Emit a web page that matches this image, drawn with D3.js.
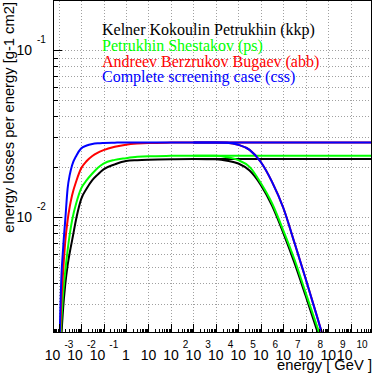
<!DOCTYPE html>
<html>
<head>
<meta charset="utf-8">
<script src="https://cdn.jsdelivr.net/npm/d3@7/dist/d3.min.js"></script>
<style>
  body { margin: 0; background: #fff; }
  svg { display: block; }
  .tick-label { font-family: "Liberation Sans", Arial, sans-serif; font-size: 14px; fill: #000; }
  .tick-exp { font-family: "Liberation Sans", Arial, sans-serif; font-size: 10px; fill: #000; }
  .axis-title { font-family: "Liberation Sans", Arial, sans-serif; font-size: 15px; fill: #000; }
  .legend { font-family: "Liberation Serif", "Times New Roman", serif; font-size: 16px; }
</style>
</head>
<body>
<script>
// photon energy [GeV]
var energy = [0.001047, 0.001122, 0.001259, 0.001585, 0.001995, 0.002512, 0.003162, 0.003981,
  0.00631, 0.01, 0.01778, 0.03162, 0.05623, 0.1, 0.3162, 1, 3.162, 10, 100,
  1e3, 1e4, 1e5, 1e6, 1e7, 1e8, 1e9, 1e10, 1e11];

// energy losses per energy, no LPM suppression
var kkp = [0.00032, 0.00089, 0.00158, 0.00282, 0.00398, 0.00513, 0.00617, 0.00724,
  0.0100, 0.01274, 0.01479, 0.0166, 0.01799, 0.01928, 0.02065, 0.02163, 0.02188, 0.02203, 0.02218,
  0.02223, 0.02223, 0.02223, 0.02223, 0.02223, 0.02223, 0.02223, 0.02223, 0.02223];
var ps = [0.0004, 0.00112, 0.0020, 0.00347, 0.00479, 0.00631, 0.00794, 0.00955,
  0.0123, 0.01479, 0.0166, 0.0182, 0.01972, 0.02089, 0.02198, 0.02249, 0.02291, 0.02312, 0.02323,
  0.02328, 0.02328, 0.02328, 0.02328, 0.02328, 0.02328, 0.02328, 0.02328, 0.02328];
var abb = [0.0005, 0.00141, 0.00263, 0.00468, 0.00724, 0.00955, 0.01161, 0.01349,
  0.0166, 0.0195, 0.02163, 0.02317, 0.02427, 0.02512, 0.0263, 0.0271, 0.02752, 0.02775, 0.02788,
  0.02793, 0.02793, 0.02793, 0.02793, 0.02793, 0.02793, 0.02793, 0.02793, 0.02793];
var css = [0.00063, 0.00178, 0.00355, 0.00646, 0.00977, 0.01479, 0.01799, 0.02042,
  0.02344, 0.0257, 0.02679, 0.02735, 0.02762, 0.02775, 0.02786, 0.02793, 0.02793, 0.02793, 0.02793,
  0.02793, 0.02793, 0.02793, 0.02793, 0.02793, 0.02793, 0.02793, 0.02793, 0.02793];

// high energy part with LPM suppression
var energyLpm = [1e3, 1e4, 3.162e4, 1e5, 3.162e5, 1e6, 3.162e6, 1e7, 3.162e7, 1e8, 3.162e8, 1e9];
var kkpLpm = [0.02223, 0.02213, 0.02173, 0.02089, 0.01897, 0.01556, 0.01169, 0.00804, 0.00531, 0.00336, 0.0021, 0.00135];
var psLpm = [0.02328, 0.02323, 0.0228, 0.02188, 0.01995, 0.01596, 0.01208, 0.00832, 0.00556, 0.00351, 0.00222, 0.00141];
var abbLpm = [0.02793, 0.02793, 0.0278, 0.02704, 0.02523, 0.02133, 0.01622, 0.01135, 0.007, 0.00425, 0.00254, 0.00151];
var cssLpm = [0.02793, 0.02793, 0.0278, 0.02704, 0.02523, 0.02133, 0.01622, 0.01135, 0.007, 0.00425, 0.00254, 0.00151];

var xTickExp = [-3, -2, -1, 0, 1, 2, 3, 4, 5, 6, 7, 8, 9, 10];
var yTickExp = [-2, -1];
var legendLabels = ["Kelner Kokoulin Petrukhin (kkp)", "Petrukhin Shestakov (ps)",
  "Andreev Berzrukov Bugaev (abb)", "Complete screening case (css)"];
var colors = ["#000000", "#00ff00", "#ff0000", "#0000ff"];

var width = 374, height = 378;
var fLeft = 53, fRight = 372, fTop = 1, fBottom = 333;

var svg = d3.select("body").append("svg")
  .attr("width", width)
  .attr("height", height);

var x = d3.scaleLog().domain([Math.pow(10, -3.25), Math.pow(10, 10.95)]).range([fLeft, fRight]);
var y = d3.scaleLog().domain([Math.pow(10, -2.695), Math.pow(10, -0.7066)]).range([fBottom, fTop]);

svg.append("defs").append("clipPath").attr("id", "frame")
  .append("rect").attr("x", fLeft).attr("y", fTop).attr("width", fRight - fLeft).attr("height", fBottom - fTop);

// fit a text to a given length by adjusting its font size
function fitText(sel, target) {
  var len = sel.node().getComputedTextLength();
  var fs = parseFloat(window.getComputedStyle(sel.node()).fontSize);
  if (len > 0) sel.style("font-size", (fs * target / len) + "px");
}

// grid
var grid = svg.append("g").attr("stroke", "#a0a0a0").attr("stroke-dasharray", "1,2").attr("stroke-width", 1);
xTickExp.forEach(function(e) {
  var px = Math.round(x(Math.pow(10, e))) + 0.5;
  grid.append("line").attr("x1", px).attr("x2", px).attr("y1", fTop).attr("y2", fBottom);
});
var yGrid = [];
[-3, -2, -1].forEach(function(e) {
  for (var k = 1; k < 10; k++) {
    var v = k * Math.pow(10, e);
    if (v >= y.domain()[0] && v <= y.domain()[1]) yGrid.push({v: v, major: k == 1});
  }
});
yGrid.forEach(function(d) {
  var py = Math.round(y(d.v)) + 0.5;
  grid.append("line").attr("x1", fLeft).attr("x2", fRight).attr("y1", py).attr("y2", py);
});

// curves
var line = d3.line()
  .x(function(d) { return x(d[0]); })
  .y(function(d) { return y(d[1]); })
  .curve(d3.curveMonotoneX);

var curves = svg.append("g").attr("clip-path", "url(#frame)")
  .attr("fill", "none").attr("stroke-width", 2);

var full = [kkp, ps, abb, css];
var lpm = [kkpLpm, psLpm, abbLpm, cssLpm];
full.forEach(function(vals, i) {
  curves.append("path")
    .attr("d", line(energy.map(function(e, j) { return [e, vals[j]]; })))
    .attr("stroke", colors[i]);
  curves.append("path")
    .attr("d", line(energyLpm.map(function(e, j) { return [e, lpm[i][j]]; })))
    .attr("stroke", colors[i]);
});

// frame + ticks
var axes = svg.append("g").attr("stroke", "#000").attr("stroke-width", 1).attr("fill", "none");
axes.append("rect").attr("x", fLeft + 0.5).attr("y", fTop - 0.5).attr("width", fRight - fLeft - 1).attr("height", fBottom - fTop);

yGrid.forEach(function(d) {
  var py = Math.round(y(d.v)) + 0.5;
  axes.append("line").attr("x1", fLeft).attr("x2", fLeft + (d.major ? 9 : 5)).attr("y1", py).attr("y2", py);
});
for (var e = -4; e <= 11; e++) {
  for (var k = 1; k < 10; k++) {
    var v = k * Math.pow(10, e);
    if (v < x.domain()[0] || v > x.domain()[1]) continue;
    var px = Math.round(x(v)) + 0.5;
    axes.append("line").attr("x1", px).attr("x2", px).attr("y1", fBottom).attr("y2", fBottom - (k == 1 ? 9 : 4));
  }
}

// y tick labels
yTickExp.forEach(function(e) {
  var py = y(Math.pow(10, e));
  svg.append("text").attr("class", "tick-label").attr("x", 32).attr("y", py + 5)
    .attr("text-anchor", "end").text("10");
  svg.append("text").attr("class", "tick-exp").attr("x", 37).attr("y", py - 7)
    .text(String(e));
});

// x tick labels
xTickExp.forEach(function(e) {
  var px = x(Math.pow(10, e));
  var by = 360;
  if (e == 0) {
    svg.append("text").attr("class", "tick-label").attr("x", px).attr("y", by).attr("text-anchor", "middle").text("1");
    return;
  }
  if (e == 1) {
    svg.append("text").attr("class", "tick-label").attr("x", px).attr("y", by).attr("text-anchor", "middle").text("10");
    return;
  }
  var s = String(e);
  var c = px - (s.length - 1) * 6;
  svg.append("text").attr("class", "tick-label").attr("x", c).attr("y", by).attr("text-anchor", "middle").text("10");
  svg.append("text").attr("class", "tick-exp").attr("x", c + 7.8 + 4).attr("y", by - 12).text(s);
});

// axis titles
var xTitle = svg.append("text").attr("class", "axis-title")
  .attr("x", fRight).attr("y", 370).attr("text-anchor", "end").text("energy [ GeV ]");
fitText(xTitle, 95);
var yTitle = svg.append("text").attr("class", "axis-title")
  .attr("transform", "translate(14,2) rotate(-90)")
  .attr("text-anchor", "end").text("energy losses per energy [g-1 cm2]");
fitText(yTitle, 231);

// legend
var legend = svg.append("g");
legendLabels.forEach(function(t, i) {
  legend.append("text").attr("class", "legend")
    .attr("x", 102).attr("y", 35 + i * 15.8)
    .attr("fill", colors[i]).text(t);
});
var first = legend.select("text");
var lfs = parseFloat(window.getComputedStyle(first.node()).fontSize) * 213 / first.node().getComputedTextLength();
legend.selectAll("text").style("font-size", lfs + "px");
</script>
</body>
</html>
